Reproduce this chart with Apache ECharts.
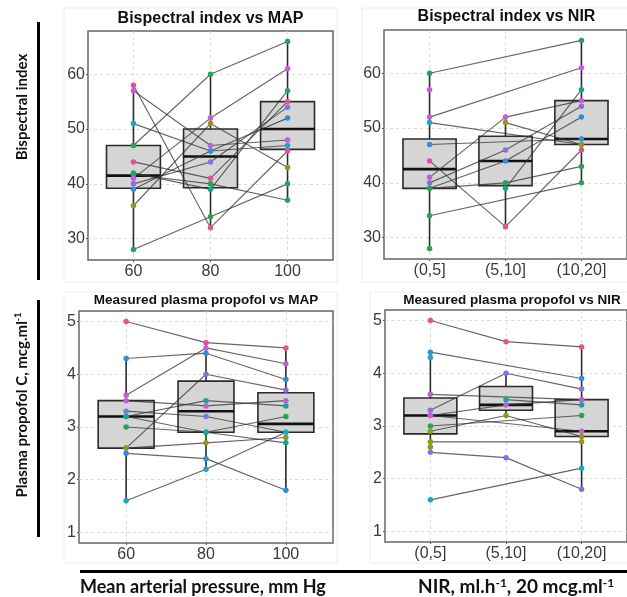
<!DOCTYPE html>
<html><head><meta charset="utf-8">
<script src="https://cdn.jsdelivr.net/npm/echarts@6/dist/echarts.min.js"></script>
<style>html,body{margin:0;padding:0;background:#fff}#c{width:627px;height:597px}</style>
</head><body><div id="c"></div>
<script>
// ---------- data ----------
const mapCats = [60, 80, 100];
const nirCats = ['(0,5]', '(5,10]', '(10,20]'];
const nirPos = [1, 2, 3];
const bisTicks = [30, 40, 50, 60];
const propTicks = [1, 2, 3, 4, 5];

const panelTitles = ['Bispectral index vs MAP', 'Bispectral index vs NIR',
  'Measured plasma propofol vs MAP', 'Measured plasma propofol vs NIR'];

// box stats per category: [lower whisker, Q1, median, Q3, upper whisker]
const bisMapBox = [[28, 39.2, 41.5, 47, 58], [32, 39.3, 45, 50, 60], [37, 46.3, 50, 55, 66]];
const bisNirBox = [[28, 39, 42.5, 48, 60], [32, 39.5, 44, 48.5, 52], [40, 47, 48, 55, 66]];
const propMapBox = [[1.6, 2.6, 3.2, 3.5, 4.3], [2.2, 2.9, 3.3, 3.87, 4.6], [1.8, 2.9, 3.06, 3.65, 4.5]];
const propNirBox = [[2.5, 2.85, 3.2, 3.53, 4.4], [3.2, 3.3, 3.4, 3.75, 4.0], [1.8, 2.8, 2.9, 3.5, 4.5]];

// subject values per category (null = not observed)
const bisMapSubj = [
  [58, 32, 46], [57, 47, 48], [51, 46, 47], [47, 60, 66], [44, 41, 55], [42, 39, 57],
  [41.7, 40, 37], [41, 52, 61], [40, 44, 54], [39, 46, 52], [36, 51, 43], [28, 34, 40]
];
const bisMapCol = ['pk', 'mg', 'cy', 'gr', 'pk', 'te', 'gr', 'mg', 'pu', 'bl', 'ol', 'gr'];

const bisNirSubj = [
  [60, null, 66], [57, null, null], [52, null, 61], [51, null, 47], [47, null, 48],
  [44, 32, 46], [41, 52, 55], [40, 46, 54], [39, 44, 52], [39, 40, 43],
  [null, 39, 57], [null, 51, 47], [34, null, 40], [28, null, null]
];
const bisNirCol = ['gr', 'mg', 'mg', 'cy', 'bl', 'pk', 'mg', 'pu', 'bl', 'gr', 'te', 'ol', 'gr', 'gr'];

const propMapSubj = [
  [5.0, 4.6, 4.5], [4.3, 4.4, 3.9], [3.6, 4.5, 4.2], [2.6, 4.0, 3.7], [3.5, 3.4, 3.5],
  [3.3, 3.2, 2.9], [3.2, 3.5, 3.4], [3.0, 2.9, 3.2], [2.6, 2.7, 2.8], [2.5, 2.4, 1.8],
  [1.6, 2.2, 2.9], [3.2, 2.9, 2.7]
];
const propMapCol = ['pk', 'bl', 'mg', 'pu', 'mg', 'pu', 'te', 'gr', 'ol', 'bl', 'cy', 'te'];

const propNirSubj = [
  [5.0, 4.6, 4.5], [4.4, null, 3.9], [4.3, null, null], [3.3, 4.0, 3.7], [3.6, null, 3.5],
  [3.2, 3.4, 3.5], [null, 3.5, 3.4], [3.2, null, 2.9], [2.9, 3.2, 2.8], [3.0, null, 3.2],
  [2.7, null, 2.7], [2.5, 2.4, 1.8], [1.6, null, 2.2], [2.6, null, null]
];
const propNirCol = ['pk', 'bl', 'cy', 'pu', 'mg', 'mg', 'te', 'mg', 'ol', 'gr', 'ol', 'pu', 'cy', 'ol'];

// ---------- styles ----------
const palette = { pk: '#E4509A', mg: '#C75BD8', pu: '#8572E0', bl: '#2F8EDB', cy: '#19A9C7', te: '#14A594', gr: '#23A553', ol: '#8F9A18' };
const grids = [
  { left: 88, top: 31, width: 245, height: 229 },
  { left: 384, top: 30, width: 245, height: 229 },
  { left: 79, top: 311, width: 254, height: 232 },
  { left: 385, top: 310, width: 254, height: 232 }
];
const axisFont = { fontFamily: 'Liberation Sans', fontSize: 16, color: '#3a3a3a' };
const gridLine = { show: true, lineStyle: { color: '#d4d4d4', type: [3, 3], width: 0.8 } };

function xAxisFor(i, isMap) {
  return {
    type: 'value', gridIndex: i,
    min: isMap ? 48.2 : 0.4, max: isMap ? 111.8 : 3.6,
    axisLine: { show: false },
    axisTick: { show: true, length: 2, lineStyle: { color: '#555' }, customValues: isMap ? mapCats : nirPos },
    axisLabel: Object.assign({ margin: 4, customValues: isMap ? mapCats : nirPos,
      formatter: v => isMap ? String(v) : nirCats[Math.round(v) - 1] }, axisFont),
    splitLine: gridLine
  };
}
function yAxisFor(i, isBis) {
  return {
    type: 'value', gridIndex: i,
    min: isBis ? 26.1 : 0.8, max: isBis ? 67.9 : 5.2,
    axisLine: { show: false },
    axisTick: { show: true, length: 2, lineStyle: { color: '#555' }, customValues: isBis ? bisTicks : propTicks },
    axisLabel: Object.assign({ margin: 3, customValues: isBis ? bisTicks : propTicks }, axisFont),
    splitLine: gridLine
  };
}

function boxSeries(gi, xs, boxes, w) {
  return {
    type: 'custom', xAxisIndex: gi, yAxisIndex: gi, z: 1, silent: true,
    encode: { x: 0, y: [1, 2, 3, 4, 5] },
    data: boxes.map((b, i) => [xs[i]].concat(b)),
    renderItem: (params, api) => {
      const x = api.value(0);
      const hw = api.size([w, 0])[0] / 2;
      const p = [1, 2, 3, 4, 5].map(k => api.coord([x, api.value(k)]));
      const st = { stroke: '#2b2b2b', lineWidth: 1.6 };
      return {
        type: 'group', children: [
          { type: 'line', shape: { x1: p[0][0], y1: p[0][1], x2: p[1][0], y2: p[1][1] }, style: st },
          { type: 'line', shape: { x1: p[3][0], y1: p[3][1], x2: p[4][0], y2: p[4][1] }, style: st },
          { type: 'rect', shape: { x: p[3][0] - hw, y: p[3][1], width: 2 * hw, height: p[1][1] - p[3][1] },
            style: { fill: '#d5d5d5', stroke: '#2b2b2b', lineWidth: 1.6 } },
          { type: 'line', shape: { x1: p[2][0] - hw, y1: p[2][1], x2: p[2][0] + hw, y2: p[2][1] },
            style: { stroke: '#111', lineWidth: 2.6 } }
        ]
      };
    }
  };
}

function subjSeries(gi, xs, subj, cols) {
  return subj.map((vals, s) => ({
    type: 'line', xAxisIndex: gi, yAxisIndex: gi, z: 2, silent: true,
    data: vals.map((v, i) => v == null ? null : [xs[i], v]).filter(d => d),
    symbol: 'circle', symbolSize: 5.5, showSymbol: true,
    itemStyle: { color: palette[cols[s]], borderWidth: 0 },
    lineStyle: { color: '#333', width: 1.15, opacity: 0.75 }
  }));
}

const series = [].concat(
  [boxSeries(0, mapCats, bisMapBox, 14)], subjSeries(0, mapCats, bisMapSubj, bisMapCol),
  [boxSeries(1, nirPos, bisNirBox, 0.7)], subjSeries(1, nirPos, bisNirSubj, bisNirCol),
  [boxSeries(2, mapCats, propMapBox, 14)], subjSeries(2, mapCats, propMapSubj, propMapCol),
  [boxSeries(3, nirPos, propNirBox, 0.7)], subjSeries(3, nirPos, propNirSubj, propNirCol)
);

const sideFont = 'Lato';
const frame = (x, y, w, h) => ({ type: 'rect', shape: { x, y, width: w, height: h }, style: { fill: 'none', stroke: '#ececec', lineWidth: 1 }, z: -10 });
const titleText = (x, y, t, size) => ({ type: 'text', x, y, style: { text: t, align: 'center', verticalAlign: 'middle',
  fontFamily: 'Liberation Sans', fontWeight: 'bold', fontSize: size, fill: '#111' } });

const graphic = [
  frame(64, 8, 273, 274), frame(362, 8, 270, 274), frame(64, 292, 273, 271), frame(370, 292, 262, 271),
  titleText(210.5, 19, panelTitles[0], 16), titleText(506.5, 17, panelTitles[1], 16),
  titleText(206, 300, panelTitles[2], 13.5), titleText(512, 300, panelTitles[3], 13.5),
  { type: 'rect', shape: { x: 37, y: 22, width: 3, height: 258 }, style: { fill: '#000' } },
  { type: 'rect', shape: { x: 37, y: 300, width: 3, height: 237 }, style: { fill: '#000' } },
  { type: 'rect', shape: { x: 80, y: 570, width: 547, height: 3 }, style: { fill: '#000' } },
  { type: 'text', x: 22, y: 107, rotation: Math.PI / 2,
    style: { text: 'Bispectral index', align: 'center', verticalAlign: 'middle', fontFamily: sideFont, fontWeight: 'bold', fontSize: 15, fill: '#111' } },
  { type: 'text', x: 22, y: 405, rotation: Math.PI / 2,
    style: { text: '{a|Plasma propofol C, mcg.ml}{s|-1}', align: 'center', verticalAlign: 'middle',
      rich: { a: { fontFamily: sideFont, fontWeight: 'bold', fontSize: 15, fill: '#111' },
              s: { fontFamily: sideFont, fontWeight: 'bold', fontSize: 9, fill: '#111', padding: [0, 0, 7, 0] } } } },
  { type: 'text', x: 80, y: 587,
    style: { text: 'Mean arterial pressure, mm Hg', align: 'left', verticalAlign: 'middle', fontFamily: sideFont, fontWeight: 'bold', fontSize: 18, fill: '#111' } },
  { type: 'text', x: 418, y: 587,
    style: { text: '{a|NIR, ml.h}{s|-1}{a|, 20 mcg.ml}{s|-1}', align: 'left', verticalAlign: 'middle',
      rich: { a: { fontFamily: sideFont, fontWeight: 'bold', fontSize: 19, fill: '#111' },
              s: { fontFamily: sideFont, fontWeight: 'bold', fontSize: 12, fill: '#111', padding: [0, 0, 8, 0] } } } }
];

const chart = echarts.init(document.getElementById('c'), null, { renderer: 'canvas' });
chart.setOption({
  animation: false,
  backgroundColor: '#fff',
  grid: grids.map(g => Object.assign({ show: true, backgroundColor: '#fff', borderColor: '#666', borderWidth: 1.5, containLabel: false }, g)),
  xAxis: [xAxisFor(0, true), xAxisFor(1, false), xAxisFor(2, true), xAxisFor(3, false)],
  yAxis: [yAxisFor(0, true), yAxisFor(1, true), yAxisFor(2, false), yAxisFor(3, false)],
  series: series,
  graphic: graphic
});
</script></body></html>
